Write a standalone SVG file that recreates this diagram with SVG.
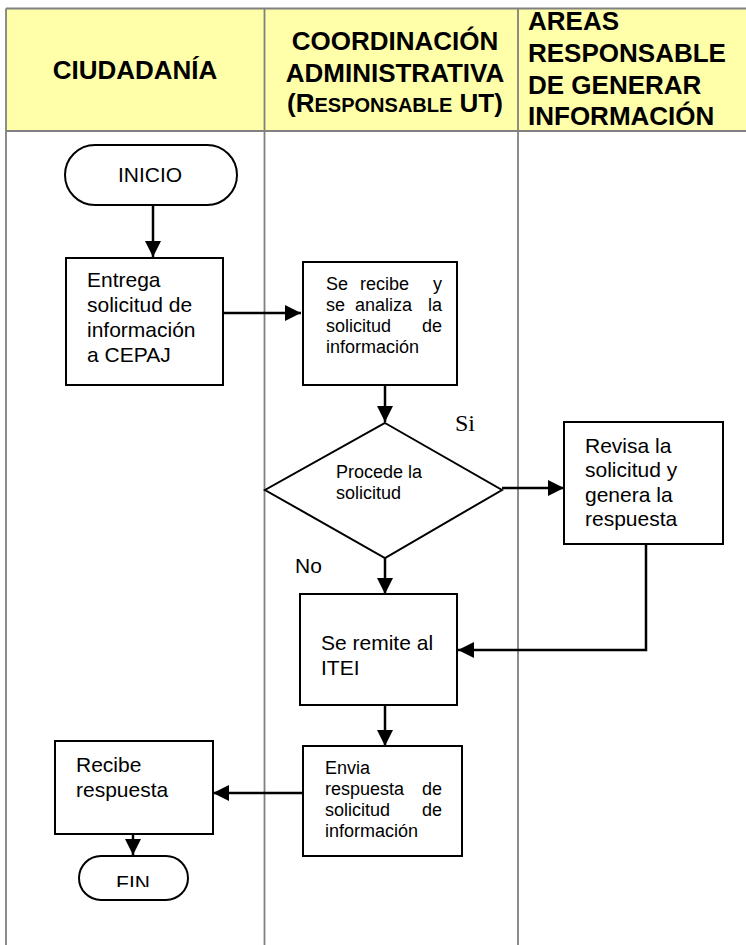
<svg xmlns="http://www.w3.org/2000/svg" width="746" height="945" viewBox="0 0 746 945">
<style>
.grid{stroke:#808080;stroke-width:1.8;fill:none}
.hdr{font-family:"Liberation Sans",Arial,sans-serif;font-weight:bold;font-size:26px;fill:#000}
.box{fill:#fff;stroke:#000;stroke-width:2}
.t{font-family:"Liberation Sans",Arial,sans-serif;font-size:21px;fill:#000}
.s{font-family:"Liberation Sans",Arial,sans-serif;font-size:18px;fill:#000}
.c{fill:none;stroke:#000;stroke-width:2.5}
</style>
<defs>
<marker id="ah" markerUnits="userSpaceOnUse" markerWidth="18" markerHeight="18" refX="16" refY="8" orient="auto">
<path d="M0,0 L16,8 L0,16 Z" fill="#000"/>
</marker>
<clipPath id="finclip"><rect x="60" y="850" width="140" height="37"/></clipPath>
</defs>
<rect width="746" height="945" fill="#fff"/>
<g id="table">
<rect x="6" y="8.5" width="742" height="122.5" fill="#FFFFAA"/>
<path class="grid" d="M6,8.5 H746 M6,131 H746 M6,8.5 V945 M264.5,8.5 V945 M518,8.5 V945"/>
<text class="hdr" x="135" y="79" text-anchor="middle">CIUDADANÍA</text>
<text class="hdr" x="395" y="50" text-anchor="middle">COORDINACIÓN</text>
<text class="hdr" x="395" y="82" text-anchor="middle" font-size="25">ADMINISTRATIVA</text>
<text class="hdr" x="395" y="112" text-anchor="middle">(R<tspan font-size="20">ESPONSABLE</tspan> UT)</text>
<text class="hdr" x="528" y="30">AREAS</text>
<text class="hdr" x="528" y="62">RESPONSABLE</text>
<text class="hdr" x="528" y="94">DE GENERAR</text>
<text class="hdr" x="528" y="125">INFORMACIÓN</text>
</g>
<g id="connectors">
<path class="c" d="M153,205 V257" marker-end="url(#ah)"/>
<path class="c" d="M223,313 H301" marker-end="url(#ah)"/>
<path class="c" d="M385,385 V422" marker-end="url(#ah)"/>
<path class="c" d="M502,488 H564" marker-end="url(#ah)"/>
<path class="c" d="M385,558 V594" marker-end="url(#ah)"/>
<path class="c" d="M646,544 V650 H458" marker-end="url(#ah)"/>
<path class="c" d="M385,705 V746" marker-end="url(#ah)"/>
<path class="c" d="M303,793 H213" marker-end="url(#ah)"/>
<path class="c" d="M133,834 V855" marker-end="url(#ah)"/>
</g>
<g id="inicio">
<rect class="box" x="65" y="145" width="172" height="60" rx="30"/>
<text class="t" x="150" y="182" text-anchor="middle" font-size="20">INICIO</text>
</g>
<g id="entrega">
<rect class="box" x="66" y="258" width="157" height="127"/>
<text class="t" x="87" y="287">Entrega</text>
<text class="t" x="87" y="312">solicitud de</text>
<text class="t" x="87" y="337">información</text>
<text class="t" x="87" y="362">a CEPAJ</text>
</g>
<g id="recibe-analiza">
<rect class="box" x="303" y="262" width="154" height="123"/>
<text class="s" x="326" y="290">Se</text>
<text class="s" x="360" y="290">recibe</text>
<text class="s" x="442" y="290" text-anchor="end">y</text>
<text class="s" x="326" y="311">se</text>
<text class="s" x="355" y="311">analiza</text>
<text class="s" x="442" y="311" text-anchor="end">la</text>
<text class="s" x="326" y="332">solicitud</text>
<text class="s" x="442" y="332" text-anchor="end">de</text>
<text class="s" x="326" y="353">información</text>
</g>
<g id="procede">
<polygon class="box" points="385,423 502,490 385,558 265,490"/>
<text class="s" x="336" y="478">Procede la</text>
<text class="s" x="336" y="499">solicitud</text>
</g>
<g id="label-si">
<text x="455" y="431" font-family="'Liberation Serif','Times New Roman',serif" font-size="24">Si</text>
</g>
<g id="label-no">
<text class="t" x="295" y="573">No</text>
</g>
<g id="revisa">
<rect class="box" x="564" y="422" width="159" height="122"/>
<text class="t" x="585" y="453">Revisa la</text>
<text class="t" x="585" y="477">solicitud y</text>
<text class="t" x="585" y="502">genera la</text>
<text class="t" x="585" y="526">respuesta</text>
</g>
<g id="remite">
<rect class="box" x="300" y="594" width="157" height="111"/>
<text class="t" x="321" y="650">Se remite al</text>
<text class="t" x="321" y="675">ITEI</text>
</g>
<g id="envia">
<rect class="box" x="303" y="746" width="159" height="110"/>
<text class="s" x="325" y="774">Envia</text>
<text class="s" x="325" y="795">respuesta</text>
<text class="s" x="442" y="795" text-anchor="end">de</text>
<text class="s" x="325" y="816">solicitud</text>
<text class="s" x="442" y="816" text-anchor="end">de</text>
<text class="s" x="325" y="837">información</text>
</g>
<g id="recibe-respuesta">
<rect class="box" x="55" y="741" width="158" height="93"/>
<text class="t" x="76" y="772">Recibe</text>
<text class="t" x="76" y="797">respuesta</text>
</g>
<g id="fin">
<rect class="box" x="79" y="856" width="109" height="44" rx="22"/>
<text class="t" x="133" y="890" text-anchor="middle" font-size="20" clip-path="url(#finclip)">FIN</text>
</g>
</svg>
